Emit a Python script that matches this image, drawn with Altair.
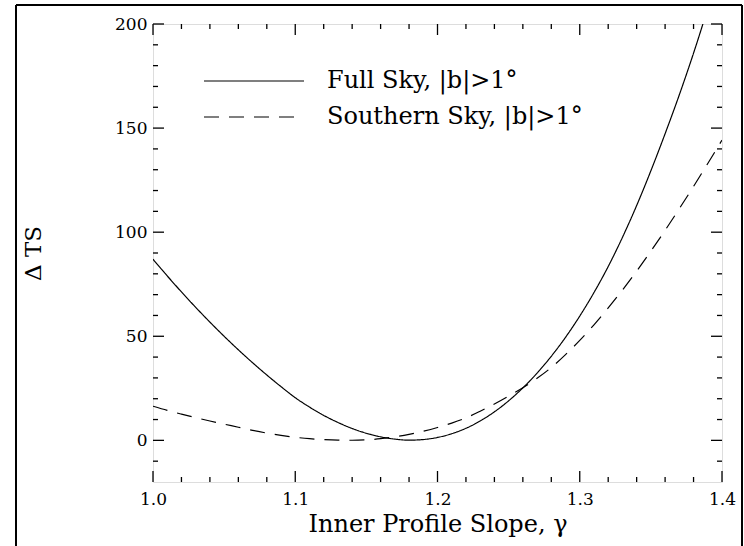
import altair as alt
import pandas as pd

gamma = [1.00, 1.01, 1.02, 1.03, 1.04, 1.05, 1.06, 1.07, 1.08, 1.09,
         1.10, 1.11, 1.12, 1.13, 1.14, 1.15, 1.16, 1.17, 1.18, 1.19,
         1.20, 1.21, 1.22, 1.23, 1.24, 1.25, 1.26, 1.27, 1.28, 1.29,
         1.30, 1.31, 1.32, 1.33, 1.34, 1.35, 1.36, 1.37, 1.38, 1.39, 1.40]
full_sky = [87.0, 79.0, 71.3, 63.9, 56.8, 50.0, 43.5, 37.3, 31.4, 25.8,
            20.5, 16.0, 12.0, 8.6, 5.7, 3.4, 1.7, 0.6, 0.1, 0.4,
            1.4, 3.2, 5.8, 9.3, 13.7, 19.0, 25.2, 32.3, 40.4, 49.5,
            59.7, 71.0, 83.5, 97.5, 112.8, 129.5, 147.3, 166.0, 186.0, 207.5, 230.0]
southern_sky = [16.4, 14.4, 12.6, 10.9, 9.3, 7.8, 6.3, 4.8, 3.5, 2.4,
                1.5, 0.8, 0.35, 0.1, 0.05, 0.25, 0.8, 1.7, 2.9, 4.4,
                6.2, 8.3, 10.8, 14.0, 17.5, 21.3, 25.3, 29.8, 35.0, 41.2,
                48.0, 55.5, 63.6, 72.2, 81.3, 90.9, 100.9, 111.3, 122.0, 133.0, 144.2]
series_names = ["Full Sky, |b|>1°", "Southern Sky, |b|>1°"]

x_major = [1.0, 1.1, 1.2, 1.3, 1.4]
x_minor = [1.02, 1.04, 1.06, 1.08, 1.12, 1.14, 1.16, 1.18, 1.22, 1.24, 1.26, 1.28,
           1.32, 1.34, 1.36, 1.38]
y_major = [0, 50, 100, 150, 200]
y_minor = [-10, 10, 20, 30, 40, 60, 70, 80, 90, 110, 120, 130, 140, 160, 170, 180, 190]

W, H = 569, 458
FONT = "DejaVu Serif"

rows = []
for g, a, b in zip(gamma, full_sky, southern_sky):
    rows.append({"gamma": g, "dts": a, "series": series_names[0]})
    rows.append({"gamma": g, "dts": b, "series": series_names[1]})
df = pd.DataFrame(rows)

xs = alt.Scale(domain=[1.0, 1.4], nice=False, zero=False)
ys = alt.Scale(domain=[-20, 200], nice=False, zero=False)

x_axis = alt.Axis(values=x_major, format=".1f", ticks=False, domain=False, grid=False,
                  labelFlush=False,
                  labelFont=FONT, labelFontSize=17, labelColor="black", labelPadding=9,
                  title="Inner Profile Slope, γ", titleFont=FONT, titleFontSize=24,
                  titleFontWeight="normal", titleColor="black", titlePadding=5)
y_axis = alt.Axis(values=y_major, ticks=False, domain=False, grid=False,
                  labelFlush=False,
                  labelFont=FONT, labelFontSize=17, labelColor="black", labelPadding=6,
                  title="Δ TS", titleFont=FONT, titleFontSize=23,
                  titleFontWeight="normal", titleColor="black", titlePadding=69)

lines = alt.Chart(df).mark_line(color="black", strokeWidth=1.2, clip=True,
                                interpolate="monotone").encode(
    x=alt.X("gamma:Q", scale=xs, axis=x_axis),
    y=alt.Y("dts:Q", scale=ys, axis=y_axis),
    strokeDash=alt.StrokeDash("series:N",
                              scale=alt.Scale(domain=series_names, range=[[1, 0], [15, 10]]),
                              legend=alt.Legend(orient="none", legendX=50, legendY=44, title=None,
                                                symbolType="stroke", symbolSize=10000,
                                                symbolStrokeWidth=1.2, symbolStrokeColor="black",
                                                labelFont=FONT, labelFontSize=24, labelColor="black",
                                                labelLimit=500, clipHeight=26,
                                                labelOffset=22, rowPadding=10, padding=0)),
    order="gamma:Q",
)

xmaj = pd.DataFrame({"v": x_major})
xmin = pd.DataFrame({"v": x_minor})
ymaj = pd.DataFrame({"v": y_major})
ymin = pd.DataFrame({"v": y_minor})

def xticks(data, length):
    bottom = alt.Chart(data).mark_rule(color="black", strokeWidth=1.3).encode(
        x=alt.X("v:Q", scale=xs, axis=x_axis), y=alt.value(H), y2=alt.value(H - length))
    top = alt.Chart(data).mark_rule(color="black", strokeWidth=1.3).encode(
        x=alt.X("v:Q", scale=xs, axis=x_axis), y=alt.value(0), y2=alt.value(length))
    return [bottom, top]

def yticks(data, length):
    left = alt.Chart(data).mark_rule(color="black", strokeWidth=1.3).encode(
        y=alt.Y("v:Q", scale=ys, axis=y_axis), x=alt.value(0), x2=alt.value(length))
    right = alt.Chart(data).mark_rule(color="black", strokeWidth=1.3).encode(
        y=alt.Y("v:Q", scale=ys, axis=y_axis), x=alt.value(W), x2=alt.value(W - length))
    return [left, right]

frame_df = pd.DataFrame({"k": [0]})
frame = [
    alt.Chart(frame_df).mark_rule(color="black", strokeWidth=2).encode(
        x=alt.value(-137), y=alt.value(-19), y2=alt.value(540)),
    alt.Chart(frame_df).mark_rule(color="black", strokeWidth=2).encode(
        x=alt.value(589), y=alt.value(-19), y2=alt.value(540)),
    alt.Chart(frame_df).mark_rule(color="black", strokeWidth=2).encode(
        x=alt.value(-137), x2=alt.value(589), y=alt.value(-19)),
]

layers = [lines] + xticks(xmaj, 11) + xticks(xmin, 5) + yticks(ymaj, 11) + yticks(ymin, 5) + frame

chart = alt.layer(*layers).properties(
    width=W, height=H,
    autosize=alt.AutoSizeParams(type="none"),
    padding={"left": 153, "top": 24, "right": 22, "bottom": 64},
).configure_view(stroke="black", strokeWidth=1.5).configure(background="white")

chart.save("out.html", embed_options={"renderer": "svg", "actions": False})
